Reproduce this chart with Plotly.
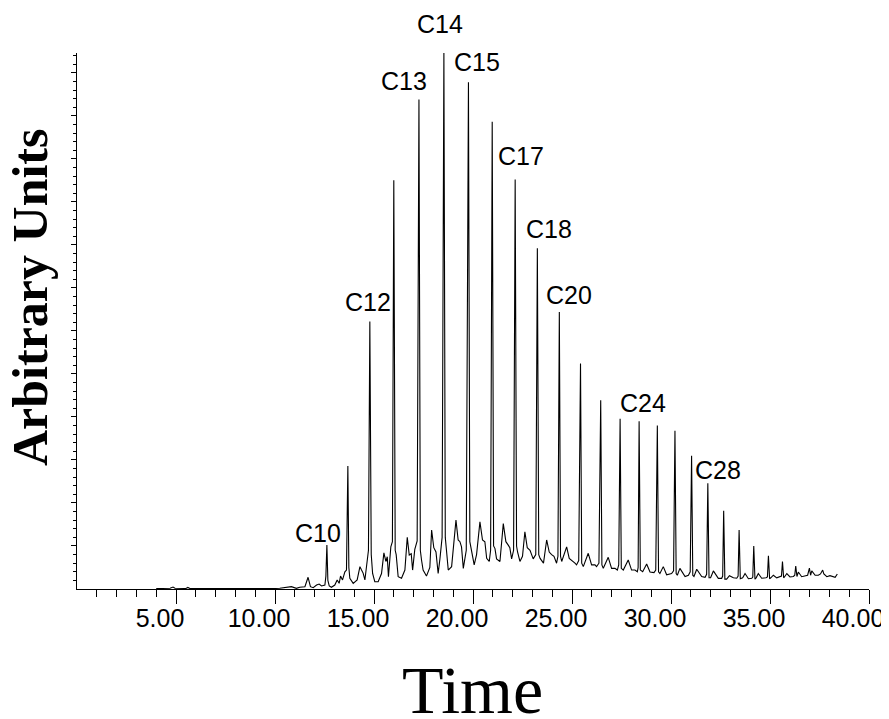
import plotly.graph_objects as go

# ---- data ----
time_min = [
    4.0, 4.7, 4.85, 4.95, 5.5, 5.6, 5.7, 7.0, 8.5, 10.0,
    10.24, 10.83, 11.08, 11.25, 11.51, 11.67, 11.79, 11.93, 12.10, 12.23,
    12.35, 12.52, 12.57, 12.62, 12.67, 12.74, 12.85, 13.02, 13.14, 13.24,
    13.31, 13.41, 13.53, 13.61, 13.68, 13.73, 13.78, 13.95, 14.15, 14.29,
    14.37, 14.45, 14.54, 14.66, 14.72, 14.79, 14.86, 14.93, 15.04, 15.21,
    15.38, 15.50, 15.60, 15.67, 15.73, 15.85, 15.93, 16.0, 16.07, 16.12,
    16.22, 16.39, 16.56, 16.68, 16.78, 16.88, 16.95, 17.06, 17.18, 17.27,
    17.34, 17.40, 17.48, 17.65, 17.82, 17.91, 18.02, 18.13, 18.24, 18.33,
    18.44, 18.53, 18.60, 18.66, 18.75, 18.92, 19.14, 19.25, 19.34, 19.42,
    19.51, 19.66, 19.77, 19.84, 19.89, 19.96, 20.06, 20.18, 20.35, 20.48,
    20.60, 20.69, 20.82, 20.89, 20.97, 21.04, 21.11, 21.19, 21.36, 21.53,
    21.66, 21.78, 21.86, 21.95, 22.05, 22.13, 22.20, 22.25, 22.37, 22.50,
    22.62, 22.74, 22.88, 23.04, 23.17, 23.25, 23.32, 23.39, 23.56, 23.72,
    23.85, 23.97, 24.09, 24.22, 24.29, 24.36, 24.42, 24.48, 24.73, 24.86,
    24.98, 25.15, 25.23, 25.34, 25.43, 25.49, 25.57, 25.82, 25.99, 26.16,
    26.24, 26.36, 26.45, 26.51, 26.58, 26.83, 27.00, 27.17, 27.29, 27.36,
    27.43, 27.49, 27.59, 27.84, 28.01, 28.18, 28.30, 28.34, 28.39, 28.45,
    28.57, 28.77, 28.94, 29.14, 29.23, 29.31, 29.37, 29.44, 29.61, 29.78,
    30.03, 30.13, 30.20, 30.26, 30.32, 30.45, 30.71, 30.88, 30.97, 31.04,
    31.10, 31.16, 31.30, 31.55, 31.72, 31.80, 31.86, 31.92, 32.00, 32.14,
    32.39, 32.56, 32.61, 32.66, 32.72, 32.81, 32.95, 33.15, 33.32, 33.39,
    33.44, 33.50, 33.62, 33.74, 33.91, 34.08, 34.13, 34.18, 34.24, 34.30,
    34.41, 34.58, 34.80, 34.87, 34.92, 34.98, 35.04, 35.17, 35.34, 35.51,
    35.58, 35.63, 35.69, 35.73, 35.85, 36.01, 36.18, 36.25, 36.30, 36.36,
    36.43, 36.60, 36.77, 36.90, 36.99, 37.05, 37.11, 37.28, 37.44, 37.55,
    37.66, 37.72, 37.87, 38.03, 38.29, 38.40,
]

signal = [
    0.05, 0.08, 0.22, 0.08, 0.06, 0.18, 0.06, 0.04, 0.05, 0.06,
    0.08, 0.27, 0.08, 0.2, 0.27, 1.36, 0.27, 0.15, 0.46, 0.58,
    0.35, 0.46, 1.5, 5.1, 1.0, 0.35, 0.2, 0.46, 1.05, 0.66,
    1.5, 1.05, 2.0, 2.2, 14.3, 2.5, 1.24, 0.66, 1.05, 2.6,
    2.2, 1.85, 1.05, 3.56, 4.5, 31.1, 4.0, 1.8, 0.85, 0.85,
    1.8, 4.2, 3.2, 3.75, 1.43, 4.9, 5.5, 47.5, 4.5, 4.0,
    1.43, 1.24, 2.2, 6.0, 3.95, 4.1, 2.2, 4.6, 5.6, 56.9,
    4.5, 3.37, 2.2, 1.5, 2.5, 6.85, 4.8, 4.3, 1.8, 3.5,
    6.0, 62.4, 6.0, 4.5, 2.2, 2.6, 8.0, 5.7, 5.5, 4.9,
    2.4, 4.5, 58.9, 5.5, 4.9, 3.9, 2.8, 4.0, 7.8, 5.7,
    5.5, 3.56, 3.2, 4.5, 54.3, 5.0, 4.7, 3.5, 3.2, 7.6,
    5.5, 5.1, 4.8, 3.5, 4.5, 47.6, 5.0, 4.3, 3.2, 3.8,
    6.65, 4.8, 4.5, 3.5, 4.0, 39.6, 4.0, 3.56, 3.0, 5.7,
    4.3, 4.0, 3.8, 3.0, 3.8, 32.2, 3.8, 3.2, 4.9, 3.56,
    3.37, 3.0, 2.8, 3.3, 26.2, 3.0, 2.6, 4.15, 2.8, 2.8,
    2.6, 3.0, 21.95, 2.8, 2.4, 3.68, 2.4, 2.4, 2.2, 2.8,
    19.8, 2.4, 2.2, 3.37, 2.2, 2.2, 2.0, 2.5, 19.5, 2.2,
    2.0, 2.9, 1.97, 1.9, 2.2, 19.0, 2.0, 1.8, 2.6, 1.65,
    1.8, 2.1, 18.4, 1.8, 1.6, 2.4, 1.45, 1.6, 2.0, 15.5,
    1.6, 1.45, 2.3, 1.45, 1.36, 1.7, 12.3, 1.3, 1.3, 2.1,
    1.24, 1.24, 1.5, 9.1, 1.15, 1.15, 1.55, 1.3, 1.25, 1.5,
    6.85, 1.2, 1.3, 1.8, 1.2, 1.25, 1.4, 5.0, 1.15, 1.3,
    1.8, 1.25, 1.3, 1.4, 3.87, 1.2, 1.3, 1.6, 1.3, 1.4,
    1.5, 3.2, 1.3, 1.4, 1.8, 1.4, 1.45, 1.6, 2.67, 1.45,
    1.97, 1.43, 1.5, 1.6, 2.44, 1.6, 2.1, 1.6, 1.6, 1.75,
    2.2, 1.75, 1.43, 1.55, 1.35, 1.74,
]

peak_labels = ["C10", "C12", "C13", "C14", "C15", "C17", "C18", "C20", "C24", "C28"]
label_time = [12.16, 14.69, 16.54, 18.33, 20.18, 22.44, 23.84, 24.85, 28.60, 32.35]
label_level = [6.55, 33.33, 59.0, 65.7, 61.27, 50.35, 41.8, 34.15, 21.6, 13.8]

x_major = [5, 10, 15, 20, 25, 30, 35, 40]
x_major_text = ["5.00", "10.00", "15.00", "20.00", "25.00", "30.00", "35.00", "40.00"]
x_minor = [v for v in range(1, 40) if v % 5 != 0]
y_major = list(range(5, 61, 5))
y_minor = [v for v in range(1, 63) if v % 5 != 0]
y_top = 62.3

sans = "Liberation Sans, Arial, sans-serif"
serif = "Liberation Serif, Times New Roman, serif"

fig = go.Figure()
fig.add_trace(go.Scatter(
    x=time_min, y=signal, mode="lines",
    line=dict(color="black", width=1.1),
    hoverinfo="skip", showlegend=False,
))

for txt, tx, ty in zip(peak_labels, label_time, label_level):
    fig.add_annotation(x=tx, y=ty / y_top, xref="x", yref="paper", text=txt,
                       showarrow=False, xanchor="center", yanchor="middle",
                       font=dict(family=sans, size=25, color="black"))

fig.add_annotation(x=-0.0593, y=0.543, xref="paper", yref="paper",
                   text="<b>Arbitrary Units</b>", textangle=-90, showarrow=False,
                   xanchor="center", yanchor="middle",
                   font=dict(family=serif, size=50, color="black"))
fig.add_annotation(x=0.499, y=-0.188, xref="paper", yref="paper",
                   text="Time", showarrow=False,
                   xanchor="center", yanchor="middle",
                   font=dict(family=serif, size=68, color="black"))

fig.update_layout(
    width=889, height=719,
    margin=dict(l=69, r=28, t=45, b=138),
    paper_bgcolor="white", plot_bgcolor="white",
    xaxis=dict(
        range=[0, 40], showgrid=False, zeroline=False,
        showline=True, linecolor="black", linewidth=1,
        ticks="outside", tickmode="array", tickvals=x_major, ticktext=x_major_text,
        ticklen=14, tickwidth=1, tickcolor="black",
        ticklabelshift=-16, ticklabelstandoff=-7, ticklabeloverflow="allow",
        tickfont=dict(family=sans, size=25, color="black"),
        minor=dict(tickmode="array", tickvals=x_minor, ticks="outside",
                   ticklen=7, tickwidth=1, tickcolor="black", showgrid=False),
    ),
    yaxis=dict(
        range=[0, y_top], showgrid=False, zeroline=False,
        showline=True, linecolor="black", linewidth=1,
        ticks="outside", tickmode="array", tickvals=y_major,
        showticklabels=False,
        ticklen=5, tickwidth=1, tickcolor="black",
        minor=dict(tickmode="array", tickvals=y_minor, ticks="outside",
                   ticklen=3, tickwidth=1, tickcolor="black", showgrid=False),
    ),
)

fig.write_html("out.html")
